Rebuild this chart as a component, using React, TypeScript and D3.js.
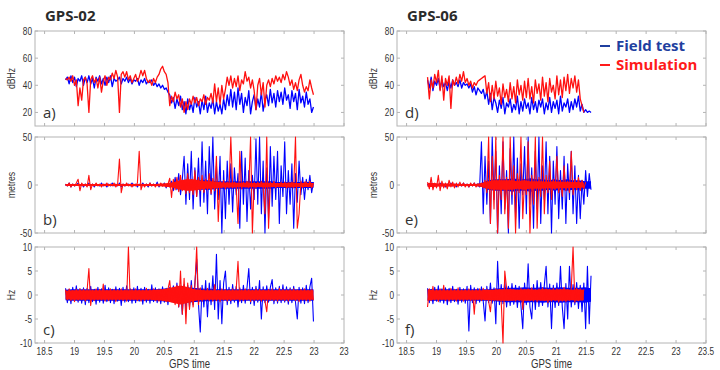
import React from 'react';
import * as d3 from 'd3';

const width = 720;
const height = 370;

// samples are evenly spaced in GPS time
const t0 = 18.85;
const dt = 0.03;

const xTicks = [18.5, 19, 19.5, 20, 20.5, 21, 21.5, 22, 22.5, 23, 23.5];
const leftXLabels = ['18.5', '19', '19.5', '20', '20.5', '21', '21.5', '22', '22.5', '23', '23'];
const rightXLabels = ['18.5', '19', '19.5', '20', '20.5', '21', '21.5', '22', '22.5', '23', '23.5'];

const cnTicks = [20, 40, 60, 80];
const posTicks = [-50, 0, 50];
const freqTicks = [-10, -5, 0, 5, 10];

const legendLabels = ['Field test', 'Simulation'];
const titles = ['GPS-02', 'GPS-06'];

// GPS-02, C/N0 (dBHz)
const gps02FieldCn = [
  44, 46, 41, 47, 42, 46, 39, 45, 43, 47, 40, 46, 42, 47, 41, 45, 38, 46, 43, 47, 41, 45, 40, 46, 42, 47, 39, 45, 43,
  44, 46, 41, 45, 43, 46, 42, 45, 41, 44, 43, 45, 40, 44, 42, 45, 41, 43, 42, 44, 40,
  42, 39, 41, 38, 40, 37, 38, 35,
  33, 27, 31, 23, 30, 25, 32, 22,
  28, 19, 30, 22, 27, 20, 31, 24, 28, 19, 29, 22, 32, 20, 27, 23, 30, 19, 28, 21, 26, 19, 30, 22,
  33, 25, 37, 24, 35, 22, 38,
  26, 34, 20, 31, 25, 36, 19, 28, 33, 22, 30, 24, 35, 21, 29,
  33, 25, 37, 27, 34, 24, 36, 28, 35, 26, 38, 29, 33, 23, 36, 28, 34, 22, 37, 27, 32, 24,
  35, 26, 30, 20, 24
];
const gps02SimCn = [
  45, 44, 46, 43, 47, 40, 44, 25, 38, 29, 44, 46, 41, 20, 44, 47, 42, 45, 38, 46,
  35, 43, 47, 40, 46, 44, 49, 45, 51, 46, 20, 48, 50, 46, 50, 44, 47, 42, 45, 48,
  43, 46, 51, 47, 51, 45, 42, 44, 40, 45, 42, 46, 48, 52, 54, 50, 48, 42, 25, 32,
  28, 35, 30, 33, 24, 30, 20, 28, 22, 30, 26, 32, 27, 31, 25, 30, 28, 33, 26, 31,
  29, 34, 27, 41, 28, 38, 26, 40, 30, 37, 46, 40, 47, 38, 45, 39, 47, 36, 44, 41,
  50, 43, 46, 38, 44, 36, 22, 40, 45, 33, 42, 24, 40, 44, 39, 45, 41, 47, 43, 46,
  42, 48, 44, 50, 46, 40, 44, 37, 42, 36, 44, 48, 40, 35, 39, 36, 44, 38, 33
];

// GPS-02, position error (metres)
const gps02FieldPos = [
  1, -1, 2, -2, 1, -1, 0, 2, -1, 1, -2, 1, -1, 2, -1, 1, -2, 1, 0, -1,
  2, -1, 1, -2, 1, -1, 2, -1, 1, -1, 2, -2, 1, -1, 0, 1, -1, 2, -1, 1,
  -2, 1, -1, 2, -1, 1, -2, 2, -1, 1, -1, 3, -2, 1, -1, 2, -3, 1, -2,
  4, -6, 8, -5, 12, -10, 6,
  30, -20, 22, -15, 35, -25, 18, -12, 28, -22,
  45, -18, 25, -30, 40, -10, 50, -25, 20, -15,
  30, -50, 15, -35, 25, -20, 22, -28, 18, -10,
  12, -45, 35, -20, 28, -38, 15, -25, 10, -15,
  48, -20, 50, -30, 25, -50, 18, -35, 40, -22,
  30, -15, 35, -40, 20, -12, 45, -30, 15, -20,
  22, -45, 12, -18, 25, -10, 8, -15,
  6, -5, 10, -8, 3
];
const gps02SimPos = [
  1, -1, 2, -2, 1, -1, 2, 6, -6, 2, -1, 1, -2,
  10, -5,
  1, -1, 2, -1, 1, -2, 1, -1, 2, -1, 1, -1, 2, -2, 1,
  27, -8,
  1, -1, 2, -1, 1, -2, 1, -1, 2,
  35, -5,
  1, -2, 1, -1, 2, -1, 1, -2, 1, -1, 2, -1, 1, -2, 1,
  7, -13,
  6, -5, 8, -7, 10, -6, 5, -9, 12, -8, 6, -10, 15, -12, 8, -6,
  10, -8, 6, -5, 12, -9, 7, -6, 30, -38,
  4, -3, 5, -4, 3, -3, 50, -3, 3, -2, -40, 35, -4, 3,
  -2, 4, -3, 50, -50, 3,
  -3, 3, -2, 4, -3, -30, 50, -45, 3, -2,
  4, -3, 2, -2, 3, -2, 3, -3, 2, -2, 3, -3, 50, -45, -30, 4, -3, 3,
  3, -2, 4, -3, 2
];

// GPS-02, Doppler error (Hz)
const gps02FieldFreq = [
  1.4, -1.6, 1.2, -1.8, 1.6, -1.3, 1.9, -1.5, 1.3, -1.7, 1.5, -2.0, 1.4, -1.6, 1.8, -1.4, 1.2, -1.9, 1.6, -1.5,
  1.3, -1.7, 2.0, -1.4, 1.5, -1.6, 1.2, -1.8, 1.7, -1.3, 1.4, -2.2, 1.6, -1.5, 1.9, -1.4, 1.3, -1.7, 1.5, -1.6,
  1.8, -1.3, 1.4, -1.9, 1.6, -1.5, 1.2, -1.7, 2.1, -1.4, 1.5, -1.6, 1.3, -1.8, 1.7, -1.5, 1.4, -2.0, 1.6, -1.4,
  1.9, -1.6, 2.5,
  -2.5, 1.8, -4, 2.2,
  -3, 2, -2.5, 3, -2, 2.5, 7.5, -2, -7.7,
  2, -2.5, 3, -4.5, 2.5, -2, 4, -3, 8.5, -5, 3, -6, 2.5,
  5, -2, 1.6, -1.8, 2.2, -1.5, 1.8, -2.5, 1.5, -1.6,
  2, -1.7, 1.5, 5.5, -1.8, 1.6, -2.2, 1.8, -1.5, 3,
  -5, 1.7, -1.6, 1.9, -1.5, 1.6, 3.2, -1.8, 1.5, -1.7,
  1.8, -1.6, 2.1, -1.5, 1.7, -1.9, 1.5, -1.6, 1.8, -1.5,
  -5, 1.6, -1.7, 1.5, -1.8, 2.0, -1.6, 1.7, 3.5, -5.5
];
const gps02SimFreq = [
  1.1, -1.0, 1.3, -1.2, 0.9, -1.4, 1.2, -1.1, 1.3, -1.0, 1.2, -1.3, 1.0, 5.5, -2.2, 1.1, -1.2, 1.3, -1.0, 1.2,
  -1.1, 2.3, -1.3, 1.0, -1.2, 1.3, -1.1, 1.2, -1.4, 1.1, -1.0, 1.3, -1.2, 1.1, -1.3, 10, -1.1, 1.2, -1.0, 1.3,
  -1.2, 1.1, -1.3, 1.0, -1.2, 1.4, -1.1, 1.2, -1.0, 1.3, -1.2, 1.1, -1.3, 1.2, -1.1, 1.0, -1.4, 1.2, 3, -1.3, 1.5, -2, 2,
  -2.5, 5, -4, 3.5, -6, 2.5, -3, 2, -2.5, 1.8, 10, -2, 1.5,
  -1.3, 1.2, -1.1, 1.4, -1.2, 1.1, -1.3, 2.2, -1.2, 1.0, -1.4, 1.3, -1.1, 1.2, -1.3, 1.1, -1.2, 1.3, -1.0, 1.2,
  7,
  -1.3, 1.1, -1.2, 1.3, -1.1, 1.2, -1.4, 1.0, -1.2, 1.3, -1.1, 1.2, -1.3, 1.1, -1.2,
  -3.5,
  1.2, -1.1, 1.3, -1.2, 1.0, -1.3, 1.4, -1.1, 1.2, -1.2, 1.1, -1.3, 1.2, -1.0, 1.3, -1.2, 1.1, -1.4, 1.2, -1.1,
  1.3, -1.2, 1.0, -1.3, 1.2, -1.1
];

// GPS-06, C/N0 (dBHz)
const gps06FieldCn = [
  44, 38, 46, 36, 43, 40, 45, 37, 44, 39, 42, 36,
  43, 38, 44, 40, 42, 39, 44, 38, 42, 40, 41,
  38, 41, 35, 39, 33, 38, 36, 34, 37,
  30, 36, 26, 34, 22, 31, 27,
  20, 29, 23, 31, 19, 27, 24, 30, 20, 26, 22, 32, 19, 28, 21, 30, 23, 27, 19, 31,
  22, 28, 20, 29, 24, 30, 19, 27, 22, 31, 20, 28, 23, 29, 19, 32, 21, 27, 24, 30, 20, 28, 22,
  30, 24, 32, 21, 26, 20, 22, 20, 21, 20
];
const gps06SimCn = [
  46, 30, 44, 38, 48, 42, 51, 36, 47, 29, 45, 40, 47, 23, 44, 40, 46, 41, 48, 43,
  50, 42, 45, 40, 43, 38, 42, 40, 43, 44, 45, 46, 47, 34, 42, 28, 40, 30, 43, 32,
  38, 26, 41, 31, 37, 28, 42, 30, 39, 27, 44, 33, 40, 29, 43, 31, 45, 30, 39, 27,
  44, 34, 41, 29, 46, 32, 42, 28, 45, 35, 40, 30, 47, 33, 44, 31, 46, 36, 48, 34,
  45, 38, 47, 35, 44, 30, 25, 20
];

// GPS-06, position error (metres)
const gps06FieldPos = [
  1, -1, 2, -2, 1, -1, 0, 2, -1, 1, -2, 1, -1, 2, -1, 1, -2, 1, 0, -1, 2, -1, 1, -2, 1, -1, 2, -1, 1, -2,
  45, -30, 30, -20,
  25, -40, 50, -15, 35, -50, 20, -30, 45, -25,
  15, -50, 38, -20, 50, -35, 28, -45, 22, -10,
  40, -30, 50, -20, 18, -45, 35, -25, 50, -40,
  20, -15, 45, -30, 30, -50, 25, -20, 40, -35,
  15, -25, 30, -40, 22, -15, 35, -30,
  20, -40, 10, -35, 5, -20, 15, -12, 12, -5
];
const gps06SimPos = [
  3, -4, 8, -5, 2, -3, 10, -6, 4, -3, 2, -4, 5, -2, 3, -3, 2, -2, 3, -1, 2, -2, 1, -2, 2, -1, 2, -2, 1, -1,
  2, -3, 5, -8,
  50, -40, 30, -25, 50, -50, 10, -15, 50, -30,
  8, -45, 50, -10, 20, -50, 12, -8, 50, -35,
  6, -10, 45, -50, 10, -20, 50, -45, 8,
  -12, 50, -30, 10, -8, 25, -15, 6, -5, 30,
  -8, 5, -12, 20, -6, 4, -8, 35, -10, 6,
  -5, 8, -6, 5, -4, 3
];

// GPS-06, Doppler error (Hz)
const gps06FieldFreq = [
  1.4, -1.6, 1.2, -1.8, 1.6, -1.3, 1.9, -1.5, 1.3, -1.7, 1.5, -2.0, 1.4, -1.6, 1.8, -1.4, 1.2, -1.9, 1.6, -1.5, 1.3, -1.7, 1.8,
  -7.5,
  2, -1.6, 1.5, -1.8, 1.4, -1.5, 1.7, -1.3,
  -5.4,
  1.8, -1.6, 2.5, -1.7, 1.5, -6, 7, -2, 2.2, -1.8,
  3, -2.5, 1.8, -2.2, 2.4, -1.9, 2, -2.6, 1.8, -2.3,
  -7, 2.5, -2, 6.5, -2.5, -5, 2.2, -3, 3, -2.4,
  2.6, -2.2, 2, 6, -2.5, 2.3, -7, 2, -2.6, 2.5,
  -2.2, 6, -2.5, -7, 2.4, -5, 6, -2.5, 2.2, -2,
  2.6, -2.8, 2, -3.5, 2.5, -7, 6, -6, 4
];
const gps06SimFreq = [
  -2.5, 1.3, -1.2, 1.8, -1.1, 1.2, -1.4, 1.3, -1.0, 2.0, -1.2, 1.1, -1.3, 1.4, -1.1, 1.2, -1.3, 1.5, -1.2, 1.1,
  -1.3, 1.2, -1.1, 1.3, -1.2, 1.1, -4, 1.2, -1.0, 1.3, -1.2, 1.4, -1.1, 1.2, -1.3, -3.5, 1.1, -1.2, 1.3, -1.1,
  1.2, -1.3, -10, 5, 1.4, -1.2, 1.3, -1.1, 1.2, -1.3, 1.1, -1.2, 1.4, -3, 1.2, -1.1, 1.3, -1.2, 1.5, -1.3,
  1.2, -1.4, 1.3, -1.1, 1.5, -1.2, 1.3, -1.6, 1.2, -1.3, 1.4, -1.2, 1.3, -1.5, 1.2, -1.3, 1.6, -1.4, 1.2, -1.2,
  1.3, 10, -1.5, 1.4, -1.2, 1.3, -1.1, 1.2
];

// half-width of the dense noise core, read every ~0.1 of GPS time
const gps02FieldPosBand = [
  1, 1, 1, 1, 1, 1, 1, 1, 1, 1, 1, 1, 1, 1, 1, 1, 1, 1,
  2, 3,
  4, 5, 5, 5, 5, 4, 4, 4, 4, 4, 4, 4, 4, 4, 4, 3, 3, 3, 3, 3, 3, 3
];
const gps02SimPosBand = [
  1, 1, 1, 1, 1, 1, 1, 1, 1, 1, 1, 1, 1, 1, 1, 1, 1.5, 2,
  3, 5, 6, 6, 5, 4, 4, 3.5,
  2.5, 2.5, 2.5, 2, 2.5, 2, 2, 2.5, 2, 2, 2, 2.5, 2, 2, 2, 2
];
const gps02FieldFreqBand = [
  1.1, 1.2, 1.2, 1.2, 1.2, 1.2, 1.2, 1.2, 1.2, 1.2, 1.2, 1.2, 1.2, 1.2, 1.2, 1.2, 1.3, 1.4, 1.5, 1.6,
  1.6, 1.5, 1.4, 1.3, 1.3, 1.2, 1.2, 1.2, 1.2, 1.2, 1.2, 1.2, 1.2, 1.2, 1.2, 1.2, 1.2, 1.2, 1.2, 1.2,
  1.2, 1.2
];
const gps02SimFreqBand = [
  0.9, 1.0, 1.0, 1.0, 1.0, 1.0, 1.0, 1.0, 1.0, 1.0, 1.0, 1.0, 1.0, 1.0, 1.0, 1.1, 1.2, 1.4, 1.7, 2.0,
  1.7, 1.3, 1.1, 1.0, 1.0, 1.0, 1.0, 1.0, 1.0, 1.0, 1.0, 1.0, 1.0, 1.0, 1.0, 1.0, 1.0, 1.0, 1.0, 1.0,
  1.0, 1.0
];
const gps06FieldPosBand = [
  1, 1, 1, 1, 1, 1, 1, 1, 1,
  2,
  5, 6, 6, 6, 7, 6, 6, 7, 6, 6, 5, 6, 5, 6, 5, 5, 4, 4
];
const gps06SimPosBand = [
  2, 2, 1.5, 1.5, 1.5, 1, 1, 1, 1,
  2,
  4, 5, 5, 5, 5, 4, 5, 4, 4, 4, 3.5, 4, 3.5, 3.5, 3, 3, 2.5
];
const gps06FieldFreqBand = [
  1.2, 1.2, 1.2, 1.2, 1.2, 1.2, 1.2, 1.2, 1.2, 1.2, 1.2,
  1.3, 1.4, 1.5, 1.5, 1.5, 1.6, 1.5, 1.5, 1.6, 1.5, 1.5, 1.6, 1.5, 1.5, 1.5, 1.6, 1.4
];
const gps06SimFreqBand = [
  1.2, 1.0, 1.0, 1.0, 1.0, 1.0, 1.0, 1.0, 1.0, 1.0,
  1.1, 1.1, 1.2, 1.2, 1.2, 1.1, 1.2, 1.2, 1.1, 1.2,
  1.2, 1.1, 1.2, 1.2, 1.1, 1.2, 1.1
];

const blue = '#0000ff';
const red = '#ff1010';
const frameColor = '#b4b4b4';
const textColor = '#333333';

const rows = [
  { top: 31, bottom: 126, domain: [10, 80], ticks: cnTicks, label: 'dBHz', letters: ['a)', 'd)'], lw: 1.3 },
  { top: 137, bottom: 233, domain: [-50, 50], ticks: posTicks, label: 'metres', letters: ['b)', 'e)'], lw: 1.1 },
  { top: 247, bottom: 343, domain: [-10, 10], ticks: freqTicks, label: 'Hz', letters: ['c)', 'f)'], lw: 1.1 }
];

const columns = [
  {
    left: 35,
    title: titles[0],
    xLabels: leftXLabels,
    ends: [22.99, 22.99],
    series: [
      [gps02FieldCn, gps02SimCn],
      [gps02FieldPos, gps02SimPos],
      [gps02FieldFreq, gps02SimFreq]
    ],
    bands: [null, [gps02FieldPosBand, gps02SimPosBand], [gps02FieldFreqBand, gps02SimFreqBand]]
  },
  {
    left: 397,
    title: titles[1],
    xLabels: rightXLabels,
    ends: [21.58, 21.46],
    series: [
      [gps06FieldCn, gps06SimCn],
      [gps06FieldPos, gps06SimPos],
      [gps06FieldFreq, gps06SimFreq]
    ],
    bands: [null, [gps06FieldPosBand, gps06SimPosBand], [gps06FieldFreqBand, gps06SimFreqBand]]
  }
];

const plotWidth = 309;
const tickLen = 3;

function Panel({ col, row, ci, ri }) {
  const x = d3.scaleLinear().domain([18.34, 23.5]).range([col.left, col.left + plotWidth]);
  const y = d3.scaleLinear().domain(row.domain).range([row.bottom, row.top]);
  const line = d3
    .line<number>()
    .x((d, i) => x(t0 + i * dt))
    .y(d => y(d));
  const bandPath = (band, tEnd) => {
    const bx = d3.scaleLinear().domain([0, band.length - 1]).range([t0, tEnd]);
    return d3
      .area<number>()
      .x((d, i) => x(bx(i)))
      .y0(d => y(-d))
      .y1(d => y(d))(band);
  };
  const [field, sim] = col.series[ri];
  const bands = col.bands[ri];
  const isBottom = ri === rows.length - 1;

  return (
    <g>
      <rect x={col.left} y={row.top} width={plotWidth} height={row.bottom - row.top} fill="#fff" stroke={frameColor} strokeWidth={1} />
      {xTicks.map(t => (
        <g key={'xt' + t} stroke={frameColor}>
          <line x1={x(t)} x2={x(t)} y1={row.bottom} y2={row.bottom - tickLen} />
          <line x1={x(t)} x2={x(t)} y1={row.top} y2={row.top + tickLen} />
        </g>
      ))}
      {row.ticks.map(v => (
        <g key={'yt' + v}>
          <line x1={col.left} x2={col.left + tickLen} y1={y(v)} y2={y(v)} stroke={frameColor} />
          <line x1={col.left + plotWidth} x2={col.left + plotWidth - tickLen} y1={y(v)} y2={y(v)} stroke={frameColor} />
          <text
            transform={`translate(${col.left - 3},${y(v) + 4}) scale(0.75,1)`}
            textAnchor="end"
            fontSize={11}
            fill={textColor}
          >
            {v}
          </text>
        </g>
      ))}
      <text
        transform={`translate(${col.left - 20},${(row.top + row.bottom) / 2}) rotate(-90) scale(0.78,1)`}
        textAnchor="middle"
        fontSize={11}
        fill={textColor}
      >
        {row.label}
      </text>
      {bands && <path d={bandPath(bands[0], col.ends[0])} fill={blue} stroke="none" />}
      <path d={line(field)} fill="none" stroke={blue} strokeWidth={row.lw} strokeLinejoin="round" />
      {bands && <path d={bandPath(bands[1], col.ends[1])} fill={red} stroke="none" />}
      <path d={line(sim)} fill="none" stroke={red} strokeWidth={row.lw} strokeLinejoin="round" />
      <text x={col.left + 8} y={row.bottom - 8} fontSize={15} fill={textColor} fontFamily="'Open Sans', sans-serif">
        {row.letters[ci]}
      </text>
      {isBottom &&
        xTicks.map((t, i) => (
          <text
            key={'xl' + t}
            transform={`translate(${x(t)},${row.bottom + 12}) scale(0.75,1)`}
            textAnchor="middle"
            fontSize={11}
            fill={textColor}
          >
            {col.xLabels[i]}
          </text>
        ))}
      {isBottom && (
        <text
          transform={`translate(${col.left + plotWidth / 2},${row.bottom + 25}) scale(0.8,1)`}
          textAnchor="middle"
          fontSize={12}
          fill={textColor}
        >
          GPS time
        </text>
      )}
    </g>
  );
}

export default function App() {
  return (
    <svg
      width={width}
      height={height}
      style={{ position: 'absolute', left: 0, top: 0, background: '#fff' }}
      fontFamily="'Liberation Sans', Arial, sans-serif"
    >
      {columns.map((col, ci) => (
        <g key={col.title}>
          <text x={col.left + 10} y={21} fontSize={15} fontWeight="bold" fill="#2b2b2b" fontFamily="'Open Sans', sans-serif">
            {col.title}
          </text>
          {rows.map((row, ri) => (
            <Panel key={row.label} col={col} row={row} ci={ci} ri={ri} />
          ))}
        </g>
      ))}
      <g fontFamily="'Open Sans', sans-serif" fontWeight="bold" fontSize={15}>
        <line x1={600} x2={610} y1={46} y2={46} stroke="#1f3f9f" strokeWidth={2} />
        <text x={616} y={51} fill="#1f3f9f">
          {legendLabels[0]}
        </text>
        <line x1={600} x2={610} y1={65} y2={65} stroke="#ff1a1a" strokeWidth={2} />
        <text x={616} y={70} fill="#ff1a1a">
          {legendLabels[1]}
        </text>
      </g>
    </svg>
  );
}
